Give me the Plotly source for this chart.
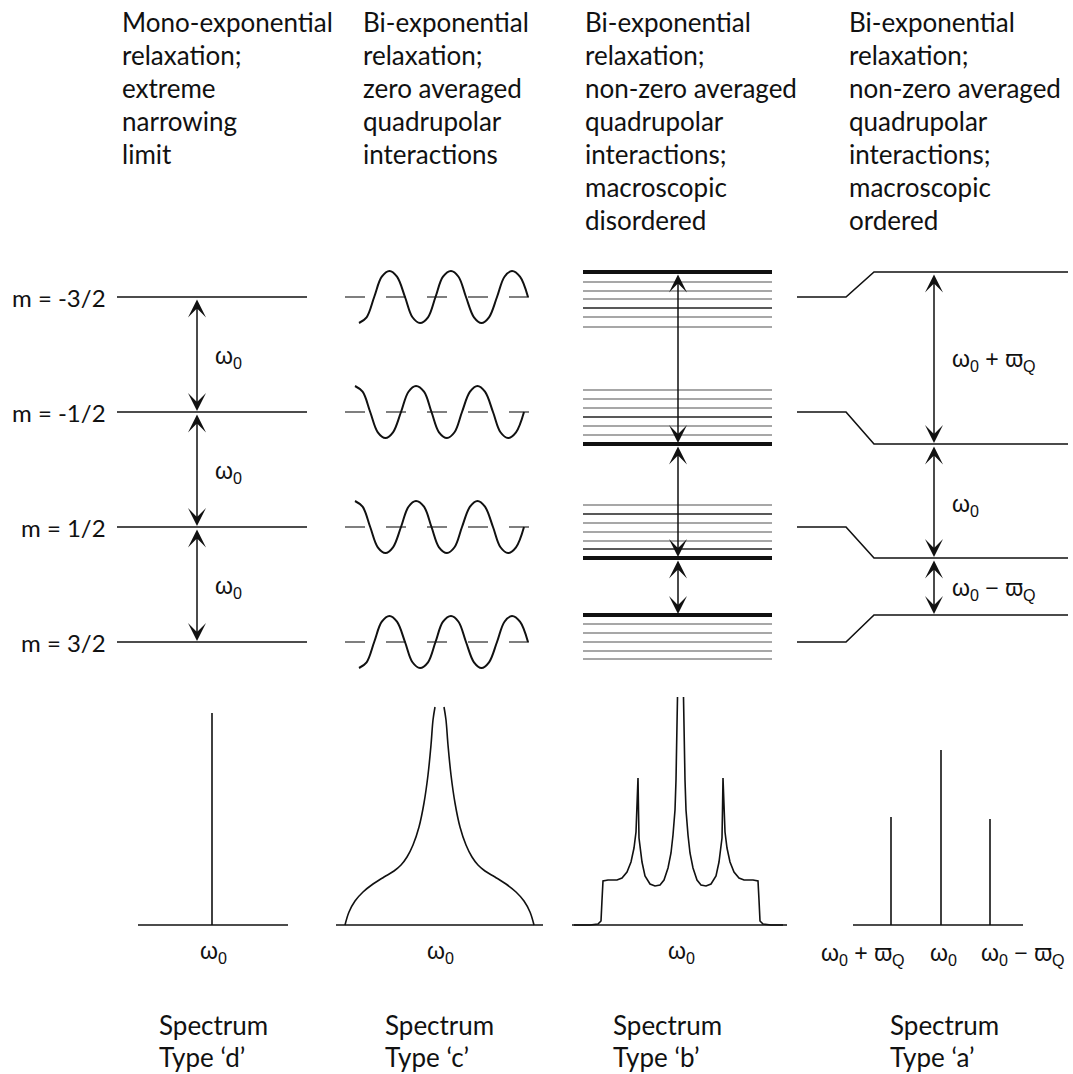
import plotly.graph_objects as go

# ---------------------------------------------------------------
# Spin-3/2 energy level diagram and the resulting NMR spectra.
# Everything is laid out on one pixel-scaled canvas (y grows down).
# ---------------------------------------------------------------

W, H = 1073, 1074

HEADERS = [
    ["Mono-exponential", "relaxation;", "extreme", "narrowing", "limit"],
    ["Bi-exponential", "relaxation;", "zero averaged", "quadrupolar", "interactions"],
    ["Bi-exponential", "relaxation;", "non-zero averaged", "quadrupolar",
     "interactions;", "macroscopic", "disordered"],
    ["Bi-exponential", "relaxation;", "non-zero averaged", "quadrupolar",
     "interactions;", "macroscopic", "ordered"],
]
HEADER_X = [120, 361, 583, 847]

FOOTERS = ["Type \u2018d\u2019", "Type \u2018c\u2019", "Type \u2018b\u2019", "Type \u2018a\u2019"]
FOOTER_X = [157, 383, 611, 888]

# Zeeman levels and the levels shifted by a residual quadrupolar coupling
LEVEL_LABELS = ["m = -3/2", "m = -1/2", "m = 1/2", "m = 3/2"]
ZEEMAN_Y = [297, 412, 527, 642]
SHIFTED_Y = [272, 444, 558, 615]

# distribution of levels drawn below each shifted level (disordered case)
DISORDER_Y = [
    [282, 291, 299, 308, 317, 327],
    [390, 399, 408, 417, 426, 435],
    [505, 514, 523, 532, 541, 549],
    [624, 633, 642, 651, 659],
]
DISORDER_DARK = [308, 417, 514, 549]

# fluctuating levels (zero averaged case): sampled nodes of each oscillation
WAVE_X = [359, 366.6, 374.2, 381.8, 389.5, 397, 405, 412.5, 420, 428, 435.5, 443,
          451, 458.5, 466, 474, 481.5, 489, 497, 504.5, 512, 520, 528]
WAVE_NODES = [-1, -0.78, 0, 0.78, 1, 0.78, 0, -0.78, -1, -0.78, 0, 0.78,
              1, 0.78, 0, -0.78, -1, -0.78, 0, 0.78, 1, 0.78, 0]
WAVE_SIGN = [1, -1, -1, 1]
WAVE_SHIFT = [0, -4, -4, 0]
WAVE_AMP = 26

# transitions (arrow pairs) per column
ARROWS_D = list(zip(ZEEMAN_Y[:-1], ZEEMAN_Y[1:]))
ARROWS_SHIFTED = list(zip(SHIFTED_Y[:-1], SHIFTED_Y[1:]))

# ---- spectra: offset from line centre (px) and intensity above baseline (px)
BASE_Y = 925

SPEC_D_POS = [0]
SPEC_D_INT = [212]

# type 'c': left half of the symmetric powder line
SPEC_C_OFF = [-94.5, -90.5, -84.5, -76.5, -66.5, -55.5, -45.5, -38.5, -32.5, -26.5,
              -20.5, -15.5, -11.5, -8.5, -6.5, -4.5]
SPEC_C_INT = [0, 13, 24, 33, 41, 48, 54, 60, 68, 80, 98, 122, 150, 180, 205, 218]

# type 'b': left half of the powder pattern with satellites
SPEC_B_OFF = [-106.5, -90.5, -82.5, -79.5, -78.5, -77.5, -72.5, -63.5, -58.5, -53.5, -49.5,
              -46.5, -44.5, -43.5, -42.5, -42.0, -41.5, -38.5, -35.5, -30.5, -25.5, -20.5,
              -16.5, -12.5, -9.5, -7.5, -5.5, -4.5, -3.5, -3.0]
SPEC_B_INT = [0, 0, 1, 4, 25, 44, 45, 45, 47, 53, 63, 77, 93, 115, 147, 115, 87, 63, 49, 41,
              39, 40, 45, 57, 72, 90, 115, 145, 185, 228]

# type 'a': three sharp lines
SPEC_A_OFF = [-50, 0, 49]
SPEC_A_INT = [108, 175, 106]

COL_CENTRE = [212, 439.5, 680.5, 941]
BASE_SPAN = [(138, 288), (336, 543), (572, 783), (853, 1023)]

INK = "#111111"
TEXT_FONT = "Lato"
SYM_FONT = "Liberation Sans"
TEXT_SIZE = 26
LEVEL_SIZE = 24
SYM_SIZE = 23

fig = go.Figure()


def line(xs, ys, width=1.6, color=INK, dash=None, shape="linear"):
    fig.add_trace(go.Scatter(
        x=xs, y=ys, mode="lines", hoverinfo="skip", showlegend=False,
        line=dict(color=color, width=width, dash=dash, shape=shape, smoothing=1.0),
    ))


def arrow(x, y0, y1):
    fig.add_annotation(
        x=x, y=y1, ax=x, ay=y0, xref="x", yref="y", axref="x", ayref="y",
        text="", showarrow=True, arrowhead=3, startarrowhead=3,
        arrowside="end+start", arrowsize=2.0, startarrowsize=2.0,
        arrowwidth=1.5, arrowcolor=INK, standoff=1, startstandoff=1,
    )


def label(x, y, text, size=SYM_SIZE, anchor="left", font=SYM_FONT):
    fig.add_annotation(
        x=x, y=y, xref="x", yref="y", text=text, showarrow=False,
        xanchor=anchor, yanchor="middle",
        font=dict(family=font, size=size, color=INK),
    )


OMEGA = "\u03c9<sub>0</sub>"
VARPI = "\u03d6<sub>Q</sub>"

# ---- column headers
for hx, lines in zip(HEADER_X, HEADERS):
    for i, txt in enumerate(lines):
        label(hx, 22 + 33 * i, txt, size=TEXT_SIZE, font=TEXT_FONT)

# ---- column 1: Zeeman levels, extreme narrowing
for lab, y in zip(LEVEL_LABELS, ZEEMAN_Y):
    line([117, 307], [y, y])
    label(108, y, lab, size=LEVEL_SIZE, anchor="right", font=TEXT_FONT)
for y0, y1 in ARROWS_D:
    arrow(197, y0, y1)
    label(213, (y0 + y1) / 2 + 3, OMEGA)

# ---- column 2: levels with fluctuating quadrupolar interaction
for yc, sgn, sh in zip(ZEEMAN_Y, WAVE_SIGN, WAVE_SHIFT):
    line([345, 532], [yc, yc], width=1.3, color="#555555", dash="20px,21px")
    line([x + sh for x in WAVE_X], [yc - sgn * n * WAVE_AMP for n in WAVE_NODES],
         width=2.0, shape="spline")

# ---- column 3: disordered sample, distribution of shifted levels
for ys in DISORDER_Y:
    for y in ys:
        dark = y in DISORDER_DARK
        line([583, 772], [y, y], width=1.3, color="#222222" if dark else "#8a8a8a")
for y in SHIFTED_Y:
    line([583, 772], [y, y], width=4)
for y0, y1 in ARROWS_SHIFTED:
    arrow(678, y0, y1)

# ---- column 4: ordered sample, levels shifted by the quadrupolar splitting
for y0, y1 in zip(ZEEMAN_Y, SHIFTED_Y):
    line([797, 846, 874, 1068], [y0, y0, y1, y1])
for y0, y1 in ARROWS_SHIFTED:
    arrow(934, y0, y1)
label(950, (SHIFTED_Y[0] + SHIFTED_Y[1]) / 2 + 2, OMEGA + " + " + VARPI)
label(950, (SHIFTED_Y[1] + SHIFTED_Y[2]) / 2 + 4, OMEGA)
label(950, (SHIFTED_Y[2] + SHIFTED_Y[3]) / 2 + 3, OMEGA + " \u2212 " + VARPI)

# ---- spectra baselines
for (x0, x1) in BASE_SPAN:
    line([x0, x1], [BASE_Y, BASE_Y])

# type 'd'
c = COL_CENTRE[0]
for off, h in zip(SPEC_D_POS, SPEC_D_INT):
    line([c + off, c + off], [BASE_Y, BASE_Y - h])

# type 'c' (two branches diverging at the centre)
c = COL_CENTRE[1]
line([c + o for o in SPEC_C_OFF], [BASE_Y - h for h in SPEC_C_INT], shape="spline")
line([c - o for o in SPEC_C_OFF], [BASE_Y - h for h in SPEC_C_INT], shape="spline")

# type 'b'
c = COL_CENTRE[2]
line([c + o for o in SPEC_B_OFF], [BASE_Y - h for h in SPEC_B_INT])
line([c - o for o in SPEC_B_OFF], [BASE_Y - h for h in SPEC_B_INT])

# type 'a'
c = COL_CENTRE[3]
for off, h in zip(SPEC_A_OFF, SPEC_A_INT):
    line([c + off, c + off], [BASE_Y, BASE_Y - h])

# ---- frequency labels under the spectra
for cx in COL_CENTRE[:3]:
    label(cx + 1, 952, OMEGA, anchor="center")
label(907, 954, OMEGA + " + " + VARPI, anchor="right")
label(943, 954, OMEGA, anchor="center")
label(979, 954, OMEGA + " \u2212 " + VARPI, anchor="left")

# ---- spectrum captions
for fx, txt in zip(FOOTER_X, FOOTERS):
    label(fx, 1025, "Spectrum", size=TEXT_SIZE, font=TEXT_FONT)
    label(fx, 1057, txt, size=TEXT_SIZE, font=TEXT_FONT)

fig.update_layout(
    width=W, height=H, margin=dict(l=0, r=0, t=0, b=0),
    paper_bgcolor="white", plot_bgcolor="white",
    xaxis=dict(range=[0, W], visible=False, fixedrange=True),
    yaxis=dict(range=[H, 0], visible=False, fixedrange=True),
)

fig.write_html("out.html")
